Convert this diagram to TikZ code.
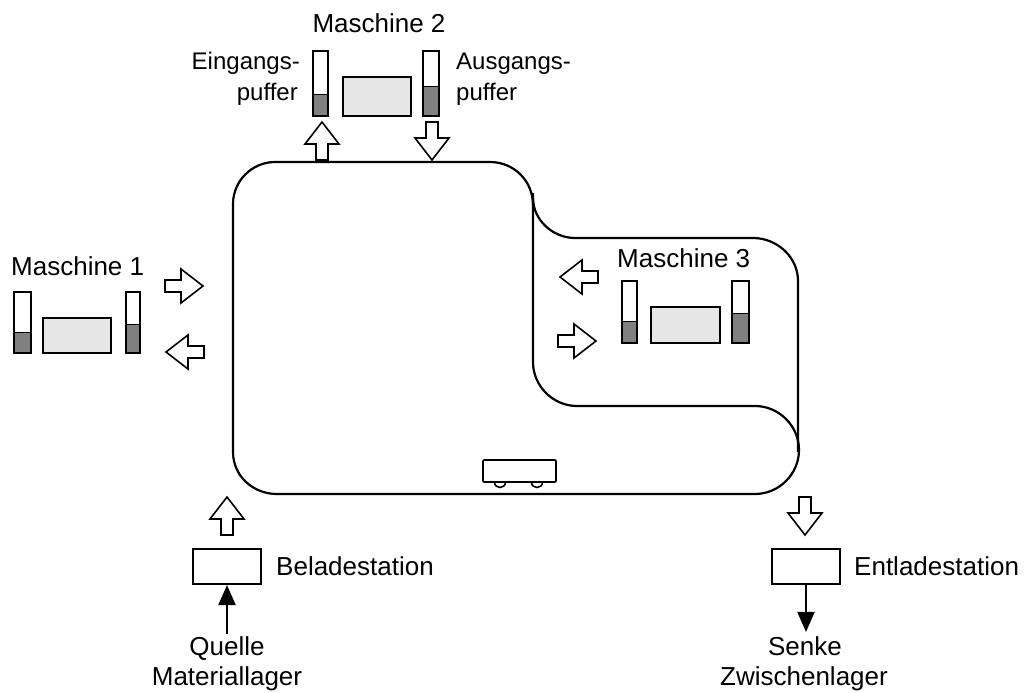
\documentclass[tikz,border=0pt]{standalone}
\usepackage{fontspec}
\setmainfont{Liberation Sans}
\usetikzlibrary{arrows.meta}
\definecolor{bufgray}{HTML}{808080}
\definecolor{boxgray}{HTML}{E6E6E6}
\tikzset{
  track/.style={line width=2.2pt, line cap=butt},
  outl/.style={line width=2pt},
  blockline/.style={line width=1.6pt, fill=white, line join=miter},
  blockarr/.pic={\draw[blockline] (0,-6)--(16,-6)--(16,-17)--(38,0)--(16,17)--(16,6)--(0,6)--cycle;},
  lbl/.style={inner sep=0pt, font=\fontsize{26}{30}\selectfont},
  slbl/.style={inner sep=0pt, font=\fontsize{24}{30}\selectfont},
  station/.style={draw, line width=2pt, minimum width=68pt, minimum height=35pt, inner sep=0pt},
  thinarrow/.style={line width=2pt, -{Triangle[length=20pt,width=17pt]}},
  machbox/.style={outl, fill=boxgray},
}
\newcommand\Puffer[5]{%
  \fill[bufgray] (#1,#5) rectangle (#3,#4);
  \draw[outl] (#1,#2) rectangle (#3,#4);
  \draw[line width=1pt] (#1,#5) -- (#3,#5);}
\begin{document}
\begin{tikzpicture}[x=1pt,y=-1pt]
\useasboundingbox (0,0) rectangle (1028,693);

% ---- track ----
\draw[track] (233,452) -- (233,204) .. controls (233,181) and (252,162) .. (275,162)
  -- (490,162) .. controls (514,162) and (533,181) .. (533,205);
\draw[track] (533,198) .. controls (533,220) and (553,238) .. (575,238) -- (753,238)
  .. controls (777,238) and (798,257) .. (798,281) -- (798,452);
\draw[track] (533,193) -- (533,362) .. controls (533,386) and (553,406) .. (577,406)
  -- (755,406) .. controls (779,406) and (799,426) .. (799,450)
  .. controls (799,474) and (779,494) .. (755,494) -- (277,494)
  .. controls (253,494) and (233,476) .. (233,452);

% ---- vehicle ----
\draw[line width=1.6pt, rounded corners=1pt] (483,460) rectangle (556,482);
\draw[line width=1.6pt] (494.5,482) .. controls (494.5,489.3) and (505.5,489.3) .. (505.5,482);
\draw[line width=1.6pt] (531.5,482) .. controls (531.5,489.3) and (542.5,489.3) .. (542.5,482);

% ---- Maschine 2 ----
\node[lbl, anchor=base] (m2) at (379,33) {Maschine 2};
\node[slbl, anchor=base east] (ein1) at (300,70) {Eingangs-};
\node[slbl, anchor=base east] (ein2) at (298,100) {puffer};
\node[slbl, anchor=base west] (aus1) at (456,70) {Ausgangs-};
\node[slbl, anchor=base west] (aus2) at (456,100) {puffer};
\Puffer{313}{51}{328}{116}{94}
\draw[machbox] (343,77) rectangle (411,116);
\Puffer{423}{51}{439}{116}{86}
\pic[rotate=90] at (322,160) {blockarr};
\pic[rotate=-90] at (432,122) {blockarr};

% ---- Maschine 1 ----
\node[lbl, anchor=base west] (m1) at (11,275) {Maschine 1};
\Puffer{14}{292}{31}{353}{332}
\draw[machbox] (43,318) rectangle (111,353);
\Puffer{126}{292}{140}{353}{324}
\pic at (165,286) {blockarr};
\pic[rotate=180] at (204,352) {blockarr};

% ---- Maschine 3 ----
\node[lbl, anchor=base west] (m3) at (617,267) {Maschine 3};
\Puffer{622}{281}{637}{343}{321}
\draw[machbox] (651,307) rectangle (720,343);
\Puffer{732}{281}{749}{343}{313}
\pic[rotate=180] at (598,277) {blockarr};
\pic at (558,341) {blockarr};

% ---- Beladestation ----
\pic[rotate=90] at (227,535) {blockarr};
\node[station] (belade) at (227,566.5) {};
\node[lbl, anchor=base west] (beladetxt) at (276,575) {Beladestation};
\node[lbl, anchor=base, inner sep=2pt] (quelle) at (227,655) {Quelle};
\node[lbl, anchor=base] (matlager) at (227,685) {Materiallager};
\draw[thinarrow] (quelle.north) -- (belade.south);

% ---- Entladestation ----
\pic[rotate=-90] at (805,497) {blockarr};
\node[station] (entlade) at (806,566.5) {};
\node[lbl, anchor=base west] (entladetxt) at (854,575) {Entladestation};
\node[lbl, anchor=base, inner sep=4pt] (senke) at (805,655) {Senke};
\node[lbl, anchor=base] (zwlager) at (804,685) {Zwischenlager};
\draw[thinarrow] (entlade.south) -- (entlade.south |- senke.north);
\end{tikzpicture}
\end{document}
